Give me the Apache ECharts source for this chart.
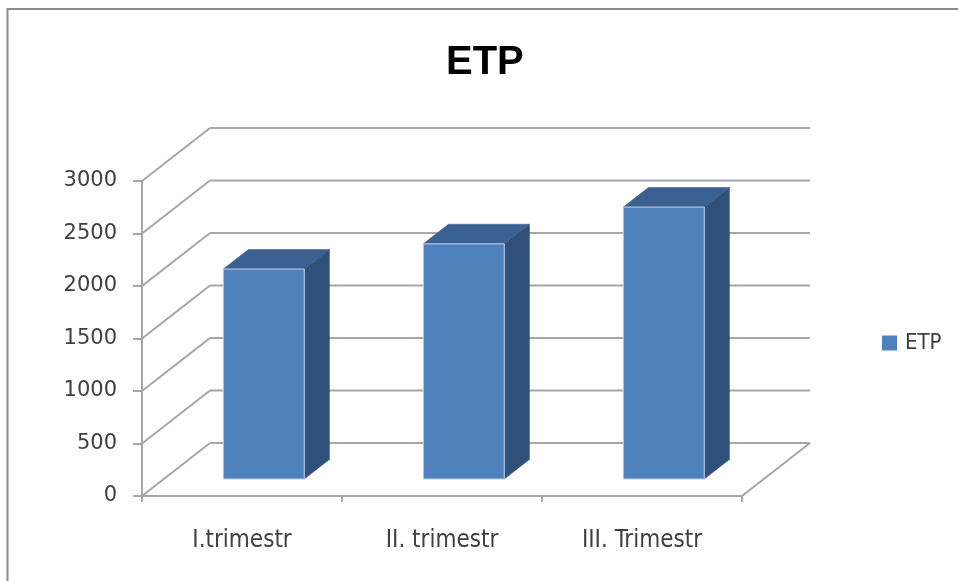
<!DOCTYPE html>
<html>
<head>
<meta charset="utf-8">
<script src="https://cdn.jsdelivr.net/npm/echarts@6/dist/echarts.min.js"></script>
<style>
  html, body { margin: 0; padding: 0; background: #ffffff; }
  #chart { width: 958px; height: 581px; }
</style>
</head>
<body>
<div id="chart"></div>
<script>
const categories = ['I.trimestr', 'II. trimestr', 'III. Trimestr'];
const etpValues = [2000, 2240, 2590];
const yTicks = [0, 500, 1000, 1500, 2000, 2500, 3000];

// Oblique projection of the floor depth (pixels) and the depth slab the columns occupy
const DEPTH_X = 68, DEPTH_Y = -53;
const COL_FRONT = 0.32, COL_BACK = 0.69, COL_WIDTH = 0.405;

const GRID_COLOR = '#a6a6a6';
const TEXT_COLOR = '#404040';
const NARROW = '"Liberation Sans Narrow", "DejaVu Sans Condensed", "Liberation Sans", sans-serif';

const chart = echarts.init(document.getElementById('chart'), null, { renderer: 'canvas' });

// Side wall diagonals and back wall gridlines for each value tick
function renderWalls(params, api) {
  const cs = params.coordSys;
  const v = api.value(0);
  const y = api.coord([0, v])[1];
  const x0 = cs.x, x1 = cs.x + cs.width;
  const style = { stroke: GRID_COLOR, lineWidth: 2, fill: null };
  const children = [
    { type: 'line', shape: { x1: x0, y1: y, x2: x0 + DEPTH_X, y2: y + DEPTH_Y }, style },
    { type: 'line', shape: { x1: x0 + DEPTH_X, y1: y + DEPTH_Y, x2: x1 + DEPTH_X, y2: y + DEPTH_Y }, style }
  ];
  if (v === 0) {
    // right edge of the floor
    children.push({ type: 'line', shape: { x1: x1, y1: y, x2: x1 + DEPTH_X, y2: y + DEPTH_Y }, style });
  }
  return { type: 'group', children };
}

// A 3D column: front face, top face and right side face
function renderColumn(params, api) {
  const idx = api.value(0);
  const top = api.coord([idx, api.value(1)]);
  const base = api.coord([idx, 0]);
  const w = api.size([1, 0])[0] * COL_WIDTH;
  const fx = COL_FRONT * DEPTH_X, fy = COL_FRONT * DEPTH_Y;
  const bx = (COL_BACK - COL_FRONT) * DEPTH_X, by = (COL_BACK - COL_FRONT) * DEPTH_Y;
  const l = top[0] - w / 2 + fx, r = top[0] + w / 2 + fx;
  const t = top[1] + fy, b = base[1] + fy;
  return {
    type: 'group',
    children: [
      { type: 'polygon', shape: { points: [[r, t], [r + bx, t + by], [r + bx, b + by], [r, b]] },
        style: { fill: '#2f5079', stroke: '#2a4870', lineWidth: 0.5 } },
      { type: 'polygon', shape: { points: [[l, t], [r, t], [r + bx, t + by], [l + bx, t + by]] },
        style: { fill: '#3b6192', stroke: '#36598a', lineWidth: 0.5 } },
      { type: 'rect', shape: { x: l, y: t, width: r - l, height: b - t },
        style: { fill: '#4f81bd', stroke: '#c3d3e9', lineWidth: 1 } }
    ]
  };
}

chart.setOption({
  animation: false,
  backgroundColor: '#ffffff',
  title: {
    text: 'ETP',
    left: 446,
    top: 43,
    padding: 0,
    textStyle: { fontFamily: '"Liberation Sans", Arial, sans-serif', fontWeight: 'bold', fontSize: 40, color: '#000000' }
  },
  legend: {
    data: [{ name: 'ETP', icon: 'rect' }],
    left: 882,
    top: 332,
    padding: 0,
    itemWidth: 15,
    itemHeight: 15,
    selectedMode: false,
    textStyle: { fontFamily: NARROW, fontSize: 22, color: TEXT_COLOR, padding: [0, 0, 0, 3] }
  },
  grid: { left: 142, right: 216, top: 181, bottom: 85, containLabel: false },
  xAxis: {
    type: 'category',
    data: categories,
    boundaryGap: true,
    axisLine: { show: true, lineStyle: { color: GRID_COLOR, width: 2 } },
    axisTick: { show: true, length: 6, lineStyle: { color: GRID_COLOR, width: 2 } },
    axisLabel: { margin: 33, fontFamily: NARROW, fontSize: 24, color: TEXT_COLOR },
    splitLine: { show: false }
  },
  yAxis: {
    type: 'value',
    min: 0,
    max: 3000,
    interval: 500,
    axisLine: { show: true, lineStyle: { color: GRID_COLOR, width: 2 } },
    axisTick: { show: true, length: 9, lineStyle: { color: GRID_COLOR, width: 2 } },
    axisLabel: {
      margin: 25,
      fontFamily: '"DejaVu Sans", sans-serif',
      fontSize: 21,
      color: TEXT_COLOR,
      formatter: v => String(v)
    },
    splitLine: { show: false }
  },
  graphic: [
    { type: 'line', shape: { x1: 7.5, y1: 8, x2: 7.5, y2: 581 }, style: { stroke: '#8c8c8c', lineWidth: 2 }, z: 100 },
    { type: 'line', shape: { x1: 7, y1: 9, x2: 958, y2: 9 }, style: { stroke: '#8c8c8c', lineWidth: 2 }, z: 100 }
  ],
  series: [
    {
      type: 'custom',
      name: 'walls',
      renderItem: renderWalls,
      data: yTicks.map(v => [v]),
      encode: { y: 0 },
      silent: true,
      z: 1
    },
    {
      type: 'custom',
      name: 'ETP',
      renderItem: renderColumn,
      data: categories.map((c, i) => [i, etpValues[i]]),
      encode: { x: 0, y: 1 },
      itemStyle: { color: '#4f81bd' },
      z: 5
    }
  ]
});
</script>
</body>
</html>
